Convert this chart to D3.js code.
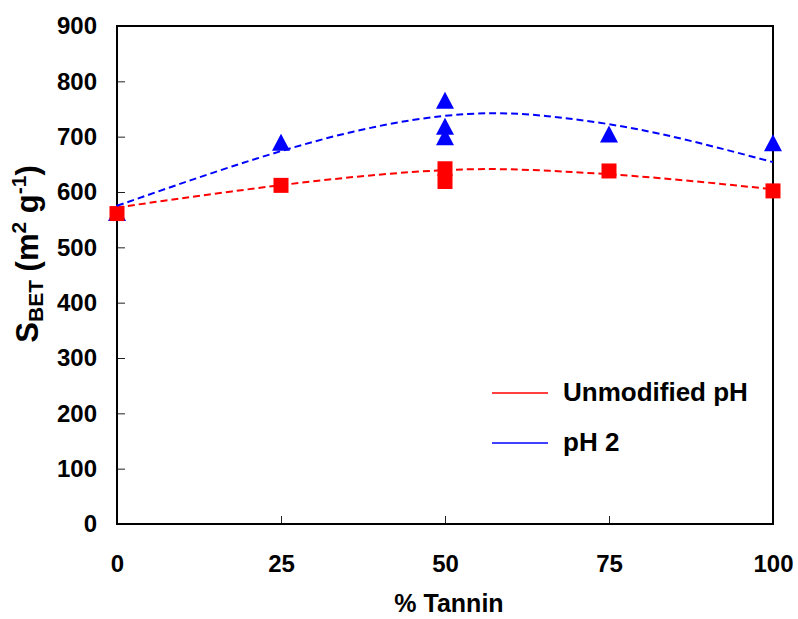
<!DOCTYPE html>
<html>
<head>
<meta charset="utf-8">
<script src="https://cdn.jsdelivr.net/npm/d3@7"></script>
<style>
  html, body { margin: 0; padding: 0; background: #fff; }
  svg { display: block; }
  text { font-family: Arial, "Liberation Sans", sans-serif; font-weight: bold; fill: #000; }
</style>
</head>
<body>
<svg id="chart" width="798" height="619"></svg>
<script>
// ---- data ----
const xTicks = [0, 25, 50, 75, 100];
const yTicks = [0, 100, 200, 300, 400, 500, 600, 700, 800, 900];

const unmodX = [0, 25, 50, 50, 75, 100];
const unmodY = [561, 612, 642, 619, 638, 602];

const ph2X = [0, 25, 50, 50, 50, 75, 100];
const ph2Y = [563, 690, 766, 719, 700, 705, 689];

// trend curves (dashed fits)
const unmodTrendX = [0, 17.5, 36, 53.5, 68, 82.8, 100];
const unmodTrendY = [572, 601, 627, 641, 637, 625, 605];
const ph2TrendX = [0, 17.5, 36, 53.5, 68, 82.8, 100];
const ph2TrendY = [575, 646, 709, 741, 734, 705, 654];

const legendLabels = ["Unmodified pH", "pH 2"];
const colors = ["#FF0000", "#0000FF"];

// ---- drawing ----
const svg = d3.select("#chart");
const L = 117, R = 773, T = 26, B = 524;
const x = d3.scaleLinear().domain([0, 100]).range([L, R]);
const y = d3.scaleLinear().domain([0, 900]).range([B, T]);

// axes
const yAxis = svg.append("g").attr("transform", `translate(${L},0)`)
  .call(d3.axisLeft(y).tickValues(yTicks).tickSize(-8).tickPadding(20).tickFormat(d3.format("d")));
const xAxis = svg.append("g").attr("transform", `translate(0,${B})`)
  .call(d3.axisBottom(x).tickValues(xTicks).tickSize(-8).tickPadding(31).tickFormat(d3.format("d")));
[yAxis, xAxis].forEach(g => {
  g.select(".domain").remove();
  g.selectAll(".tick line").attr("stroke", "#222").attr("stroke-width", 1);
  g.selectAll(".tick text").style("font-size", "24px")
    .style("font-family", 'Arial, "Liberation Sans", sans-serif').style("font-weight", "bold").attr("fill", "#000");
});

// frame
svg.append("rect").attr("x", L).attr("y", T).attr("width", R - L).attr("height", B - T)
  .attr("fill", "none").attr("stroke", "#000").attr("stroke-width", 2);

// markers: triangles for pH 2
const triW = 18, triH = 17;
svg.append("g").selectAll("path").data(ph2X.map((d, i) => [d, ph2Y[i]])).join("path")
  .attr("d", d => {
    const cx = x(d[0]), cy = y(d[1]);
    return `M${cx},${cy - triH / 2}L${cx + triW / 2},${cy + triH / 2}L${cx - triW / 2},${cy + triH / 2}Z`;
  })
  .attr("fill", colors[1]);

// squares for unmodified
const sq = 15;
svg.append("g").selectAll("rect").data(unmodX.map((d, i) => [d, unmodY[i]])).join("rect")
  .attr("x", d => x(d[0]) - sq / 2).attr("y", d => y(d[1]) - sq / 2)
  .attr("width", sq).attr("height", sq).attr("fill", colors[0]);

// trend lines
const line = d3.line().x(d => x(d[0])).y(d => y(d[1])).curve(d3.curveNatural);
svg.append("path").datum(unmodTrendX.map((d, i) => [d, unmodTrendY[i]]))
  .attr("d", line).attr("fill", "none").attr("stroke", colors[0])
  .attr("stroke-width", 2).attr("stroke-dasharray", "7,4");
svg.append("path").datum(ph2TrendX.map((d, i) => [d, ph2TrendY[i]]))
  .attr("d", line).attr("fill", "none").attr("stroke", colors[1])
  .attr("stroke-width", 2).attr("stroke-dasharray", "7,4");

// legend
const legY = [393, 443];
legendLabels.forEach((lab, i) => {
  svg.append("line").attr("x1", 492).attr("x2", 548).attr("y1", legY[i]).attr("y2", legY[i])
    .attr("stroke", colors[i]).attr("stroke-width", 1.5);
  svg.append("text").attr("x", 563).attr("y", legY[i] + 7.5).style("font-size", "26px").text(lab);
});

// axis titles
svg.append("text").attr("x", 449).attr("y", 612).attr("text-anchor", "middle")
  .style("font-size", "25px").text("% Tannin");

const yt = svg.append("text").attr("transform", "translate(38,254) rotate(-90)")
  .attr("text-anchor", "middle").style("font-size", "31px");
yt.append("tspan").text("S");
yt.append("tspan").attr("dy", 5).style("font-size", "21px").text("BET");
yt.append("tspan").attr("dy", -5).text(" (m");
yt.append("tspan").attr("dy", -12).style("font-size", "21px").text("2");
yt.append("tspan").attr("dy", 12).text(" g");
yt.append("tspan").attr("dy", -12).style("font-size", "21px").text("-1");
yt.append("tspan").attr("dy", 12).text(")");
</script>
</body>
</html>
